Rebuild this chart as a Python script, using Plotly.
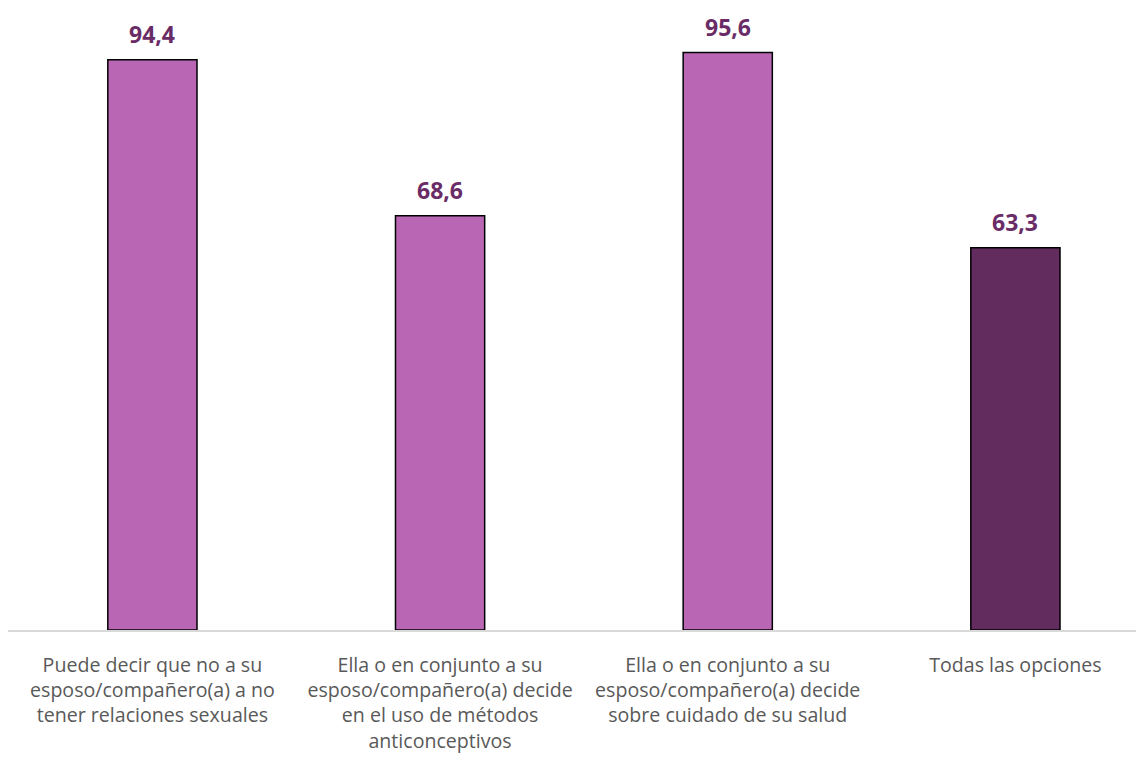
import plotly.graph_objects as go

categories = [
    "Puede decir que no a su<br>esposo/compañero(a) a no<br>tener relaciones sexuales",
    "Ella o en conjunto a su<br>esposo/compañero(a) decide<br>en el uso de métodos<br>anticonceptivos",
    "Ella o en conjunto a su<br>esposo/compañero(a) decide<br>sobre cuidado de su salud",
    "Todas las opciones",
]
values = [94.4, 68.6, 95.6, 63.3]
labels = ["94,4", "68,6", "95,6", "63,3"]
bar_colors = ["#B966B5", "#B966B5", "#B966B5", "#632C5F"]

xs = list(range(len(categories)))

fig = go.Figure()
fig.add_trace(go.Bar(
    x=xs,
    y=values,
    width=0.31,
    marker=dict(color=bar_colors, line=dict(color="#000000", width=1.5)),
    cliponaxis=False,
))

for xi, v, t in zip(xs, values, labels):
    fig.add_annotation(
        x=xi, y=v, text=t, showarrow=False,
        xref="x", yref="y", yanchor="bottom", yshift=8,
        font=dict(family="Open Sans", size=23, color="#6A2C66", weight="bold"),
    )

fig.update_layout(
    width=1136, height=755,
    margin=dict(l=0, r=0, t=18, b=133),
    paper_bgcolor="white", plot_bgcolor="white",
    showlegend=False,
    xaxis=dict(
        range=[-0.502, 3.447],
        tickmode="array",
        tickvals=xs,
        ticktext=categories,
        tickfont=dict(family="Open Sans", size=19.6, color="#595959"),
        showline=True, linecolor="#D9D9D9", linewidth=2,
        showgrid=False, ticks="",
        ticklabelstandoff=16,
    ),
    yaxis=dict(range=[0, 100], visible=False, showgrid=False),
)

fig.write_html("out.html")
